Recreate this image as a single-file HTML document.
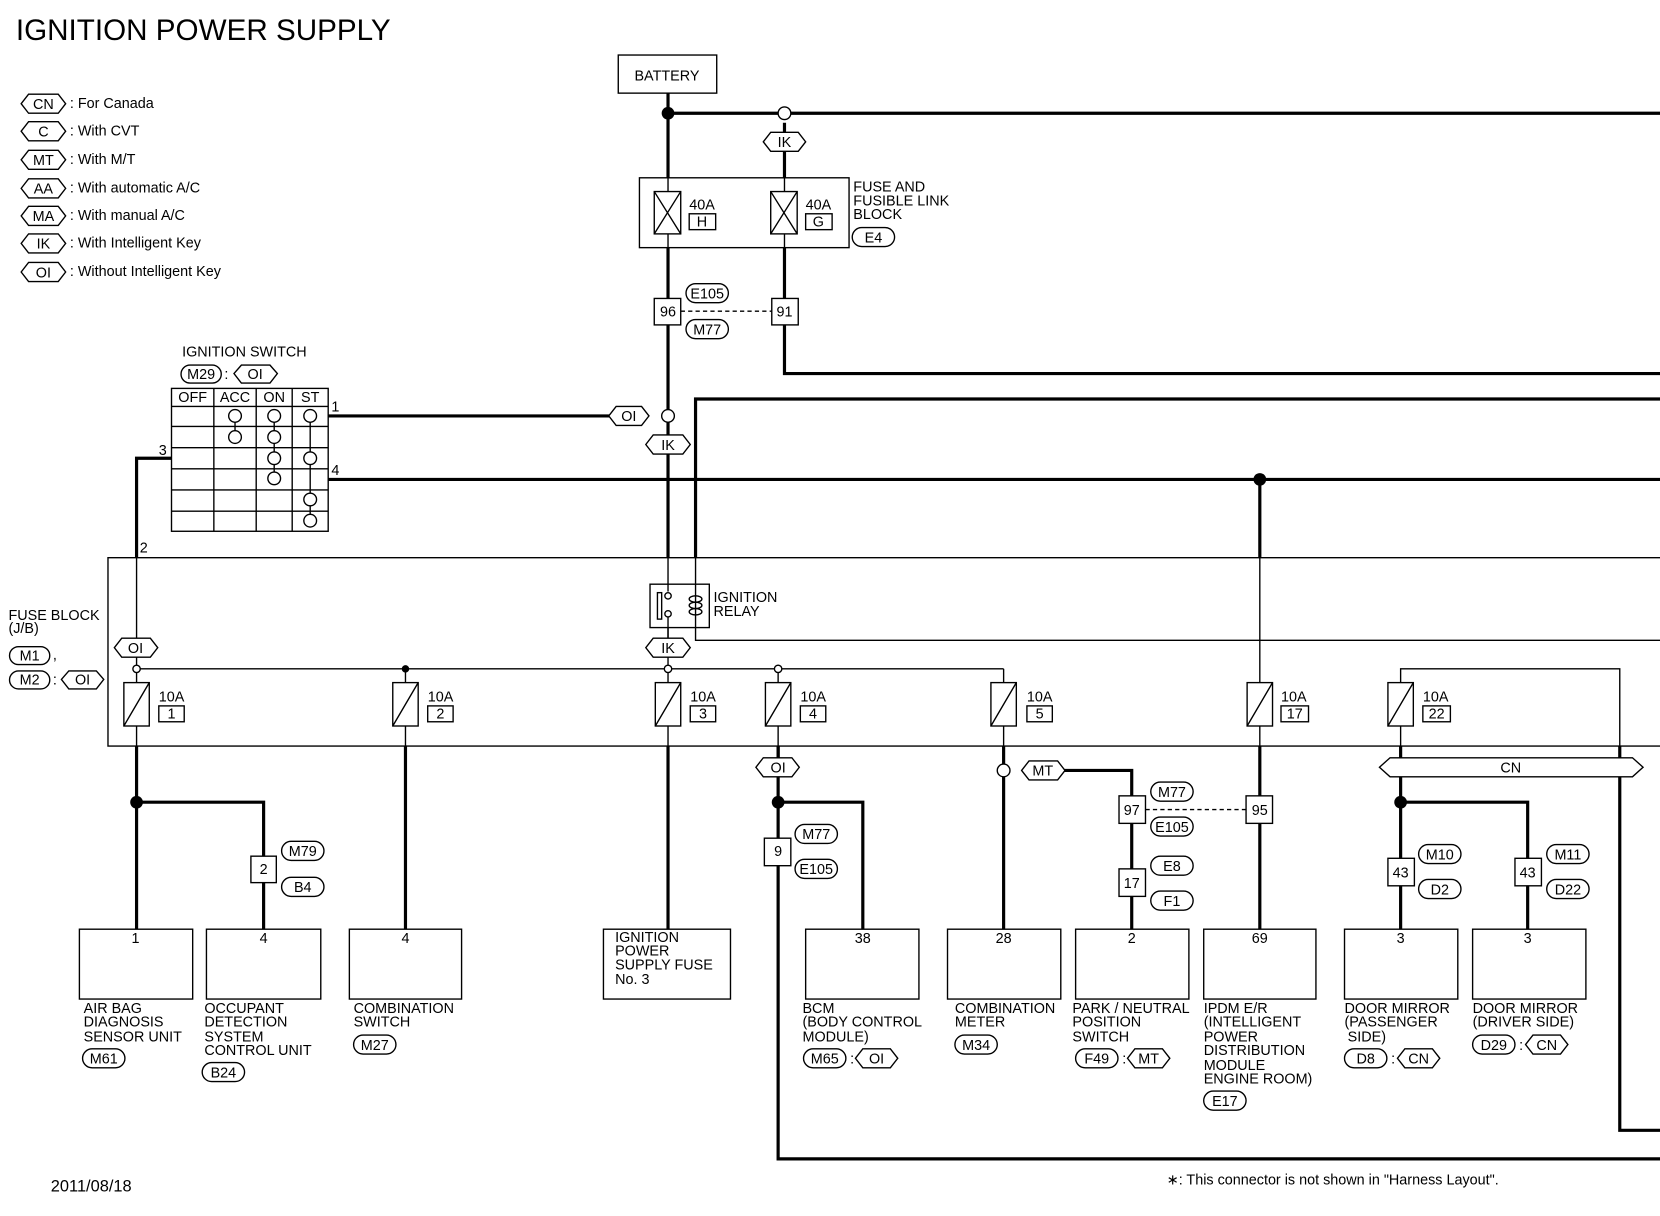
<!DOCTYPE html>
<html><head><meta charset="utf-8"><style>
html,body{margin:0;padding:0;background:#fff}
svg{display:block}
text{font-family:"Liberation Sans",Arial,sans-serif;fill:#000}
.s{font-size:13.6px}
.t{font-size:13.6px;text-anchor:middle}
</style></head><body>
<svg width="1660" height="1216" viewBox="0 0 1568 1149" preserveAspectRatio="none" xmlns="http://www.w3.org/2000/svg">
<rect width="1568" height="1149" fill="#fff"/>
<text x="15" y="38" style="font-size:28px">IGNITION POWER SUPPLY</text>

<!-- legend -->
<g fill="#fff" stroke="#000" stroke-width="1.3">
<polygon points="20,98 27,89 55,89 62,98 55,107 27,107"/>
<polygon points="20,124 27,115 55,115 62,124 55,133 27,133"/>
<polygon points="20,151 27,142 55,142 62,151 55,160 27,160"/>
<polygon points="20,178 27,169 55,169 62,178 55,187 27,187"/>
<polygon points="20,204 27,195 55,195 62,204 55,213 27,213"/>
<polygon points="20,230 27,221 55,221 62,230 55,239 27,239"/>
<polygon points="20,257 27,248 55,248 62,257 55,266 27,266"/>
</g>
<g class="t"><text x="41" y="103" class="t">CN</text><text x="41" y="129" class="t">C</text><text x="41" y="156" class="t">MT</text><text x="41" y="183" class="t">AA</text><text x="41" y="209" class="t">MA</text><text x="41" y="235" class="t">IK</text><text x="41" y="262" class="t">OI</text></g>
<g class="s"><text x="66" y="102" class="s">: For Canada</text><text x="66" y="128" class="s">: With CVT</text><text x="66" y="155" class="s">: With M/T</text><text x="66" y="182" class="s">: With automatic A/C</text><text x="66" y="208" class="s">: With manual A/C</text><text x="66" y="234" class="s">: With Intelligent Key</text><text x="66" y="261" class="s">: Without Intelligent Key</text></g>

<!-- thick wires -->
<g fill="none" stroke="#000" stroke-width="3">
<line x1="631" y1="88" x2="631" y2="168"/>
<line x1="631" y1="107" x2="1568" y2="107"/>
<line x1="741" y1="116" x2="741" y2="168"/>
<line x1="631" y1="234" x2="631" y2="527"/>
<polyline points="741,234 741,353 1568,353"/>
<polyline points="657,527 657,377 1568,377"/>
<line x1="310" y1="393" x2="576" y2="393"/>
<line x1="310" y1="453" x2="1568" y2="453"/>
<polyline points="162,433 129,433 129,527"/>
<line x1="1190" y1="453" x2="1190" y2="527"/>
<line x1="129" y1="705" x2="129" y2="878"/>
<polyline points="129,758 249,758 249,878"/>
<line x1="383" y1="705" x2="383" y2="878"/>
<line x1="631" y1="705" x2="631" y2="878"/>
<polyline points="735,705 735,1095 1568,1095"/>
<polyline points="735,758 815,758 815,878"/>
<line x1="948" y1="705" x2="948" y2="878"/>
<polyline points="1003,728 1069,728 1069,878"/>
<line x1="1190" y1="705" x2="1190" y2="878"/>
<line x1="1323" y1="705" x2="1323" y2="878"/>
<polyline points="1323,758 1443,758 1443,878"/>
<polyline points="1530,705 1530,1068 1568,1068"/>
</g>
<!-- thin wires -->
<g fill="none" stroke="#000" stroke-width="1.3">
<line x1="129" y1="527" x2="129" y2="645"/>
<line x1="129" y1="632" x2="948" y2="632"/>
<line x1="948" y1="632" x2="948" y2="645"/>
<line x1="383" y1="632" x2="383" y2="645"/>
<line x1="631" y1="527" x2="631" y2="645"/>
<line x1="735" y1="632" x2="735" y2="645"/>
<polyline points="657,527 657,605 1568,605"/>
<line x1="1190" y1="527" x2="1190" y2="645"/>
<polyline points="1323,645 1323,632 1530,632 1530,705"/>
<polyline points="1568,527 102,527 102,705 1568,705"/>
<line x1="643" y1="294" x2="729" y2="294" stroke-dasharray="4,3"/>
<line x1="1082" y1="765" x2="1177" y2="765" stroke-dasharray="4,3"/>
<g fill="#fff">
<rect x="117" y="645" width="24" height="41"/><rect x="371" y="645" width="24" height="41"/><rect x="619" y="645" width="24" height="41"/><rect x="723" y="645" width="24" height="41"/><rect x="936" y="645" width="24" height="41"/><rect x="1178" y="645" width="24" height="41"/><rect x="1311" y="645" width="24" height="41"/>
</g>
<path d="M117,686L141,645M371,686L395,645M619,686L643,645M723,686L747,645M936,686L960,645M1178,686L1202,645M1311,686L1335,645"/>
<line x1="129" y1="686" x2="129" y2="705"/><line x1="383" y1="686" x2="383" y2="705"/><line x1="631" y1="686" x2="631" y2="705"/><line x1="735" y1="686" x2="735" y2="705"/><line x1="948" y1="686" x2="948" y2="705"/><line x1="1190" y1="686" x2="1190" y2="705"/><line x1="1323" y1="686" x2="1323" y2="705"/>
<rect x="150" y="667" width="24" height="15"/><rect x="404" y="667" width="24" height="15"/><rect x="652" y="667" width="24" height="15"/><rect x="756" y="667" width="24" height="15"/><rect x="970" y="667" width="24" height="15"/><rect x="1210" y="667" width="26" height="15"/><rect x="1344" y="667" width="26" height="15"/>
</g>
<g class="s"><text x="150" y="663" class="s">10A</text><text x="404" y="663" class="s">10A</text><text x="652" y="663" class="s">10A</text><text x="756" y="663" class="s">10A</text><text x="970" y="663" class="s">10A</text><text x="1210" y="663" class="s">10A</text><text x="1344" y="663" class="s">10A</text></g>
<g><text x="162" y="679" class="t">1</text><text x="416" y="679" class="t">2</text><text x="664" y="679" class="t">3</text><text x="768" y="679" class="t">4</text><text x="982" y="679" class="t">5</text><text x="1223" y="679" class="t">17</text><text x="1357" y="679" class="t">22</text></g>

<!-- battery & fuse link block -->
<rect x="584" y="52" width="93" height="36" fill="#fff" stroke="#000" stroke-width="1.3"/>
<text x="630" y="76" class="t">BATTERY</text>
<circle cx="631" cy="107" r="6" fill="#000"/>
<circle cx="741" cy="107" r="6" fill="#fff" stroke="#000" stroke-width="1.3"/>
<rect x="604" y="168" width="198" height="66" fill="#fff" stroke="#000" stroke-width="1.3"/>
<g fill="none" stroke="#000" stroke-width="1.3">
<rect x="618" y="181" width="25" height="40"/><path d="M618,181L643,221M643,181L618,221"/>
<line x1="631" y1="168" x2="631" y2="181"/><line x1="631" y1="221" x2="631" y2="234"/>
<rect x="728" y="181" width="25" height="40"/><path d="M728,181L753,221M753,181L728,221"/>
<line x1="741" y1="168" x2="741" y2="181"/><line x1="741" y1="221" x2="741" y2="234"/>
<rect x="651" y="202" width="25" height="15"/><rect x="761" y="202" width="25" height="15"/>
</g>
<text x="651" y="198" class="s">40A</text><text x="761" y="198" class="s">40A</text>
<text x="663" y="214" class="t">H</text><text x="773" y="214" class="t">G</text>
<text x="806" y="181" class="s">FUSE AND</text><text x="806" y="194" class="s">FUSIBLE LINK</text><text x="806" y="207" class="s">BLOCK</text>
<rect x="805" y="215" width="40" height="18" rx="9" fill="#fff" stroke="#000" stroke-width="1.3"/><text x="825" y="229" class="t">E4</text>
<polygon points="721,134 728,125 754,125 761,134 754,143 728,143" fill="#fff" stroke="#000" stroke-width="1.3"/><text x="741" y="139" class="t">IK</text>

<g fill="#fff" stroke="#000" stroke-width="1.3">
<rect x="618" y="282" width="25" height="25"/><rect x="729" y="282" width="25" height="25"/>
<rect x="648" y="268" width="40" height="18" rx="9"/><rect x="648" y="302" width="40" height="18" rx="9"/>
</g>
<text x="631" y="299" class="t">96</text><text x="741" y="299" class="t">91</text>
<text x="668" y="282" class="t">E105</text><text x="668" y="316" class="t">M77</text>

<circle cx="631" cy="393" r="6" fill="#fff" stroke="#000" stroke-width="1.3"/>
<polygon points="575,393 582,384 606,384 613,393 606,402 582,402" fill="#fff" stroke="#000" stroke-width="1.3"/><text x="594" y="398" class="t">OI</text>
<polygon points="610,420 617,411 645,411 652,420 645,429 617,429" fill="#fff" stroke="#000" stroke-width="1.3"/><text x="631" y="425" class="t">IK</text>

<!-- ignition switch -->
<text x="172" y="337" class="s">IGNITION SWITCH</text>
<rect x="171" y="345" width="38" height="17" rx="8.5" fill="#fff" stroke="#000" stroke-width="1.3"/><text x="190" y="358" class="t">M29</text>
<text x="212" y="358" class="s">:</text>
<polygon points="221,353 228,345 255,345 262,353 255,362 228,362" fill="#fff" stroke="#000" stroke-width="1.3"/><text x="241" y="358" class="t">OI</text>
<g fill="none" stroke="#000" stroke-width="1.3">
<rect x="162" y="367" width="148" height="135"/>
<line x1="202" y1="367" x2="202" y2="502"/><line x1="242" y1="367" x2="242" y2="502"/><line x1="276" y1="367" x2="276" y2="502"/>
<line x1="162" y1="384" x2="310" y2="384"/><line x1="162" y1="403" x2="310" y2="403"/><line x1="162" y1="423" x2="310" y2="423"/><line x1="162" y1="443" x2="310" y2="443"/><line x1="162" y1="463" x2="310" y2="463"/><line x1="162" y1="483" x2="310" y2="483"/>
<line x1="222" y1="393" x2="222" y2="413"/><line x1="259" y1="393" x2="259" y2="452"/><line x1="293" y1="393" x2="293" y2="492"/>
</g>
<g fill="#fff" stroke="#000" stroke-width="1.3">
<circle cx="222" cy="393" r="6"/><circle cx="222" cy="413" r="6"/>
<circle cx="259" cy="393" r="6"/><circle cx="259" cy="413" r="6"/><circle cx="259" cy="433" r="6"/><circle cx="259" cy="452" r="6"/>
<circle cx="293" cy="393" r="6"/><circle cx="293" cy="433" r="6"/><circle cx="293" cy="472" r="6"/><circle cx="293" cy="492" r="6"/>
</g>
<text x="182" y="380" class="t">OFF</text><text x="222" y="380" class="t">ACC</text><text x="259" y="380" class="t">ON</text><text x="293" y="380" class="t">ST</text>
<text x="313" y="389" class="s">1</text><text x="313" y="449" class="s">4</text><text x="150" y="430" class="s">3</text><text x="132" y="522" class="s">2</text>
<circle cx="1190" cy="453" r="6" fill="#000"/>

<text x="8" y="586" class="s">FUSE BLOCK</text><text x="8" y="598" class="s">(J/B)</text>
<rect x="9" y="611" width="38" height="17" rx="8.5" fill="#fff" stroke="#000" stroke-width="1.3"/><text x="28" y="624" class="t">M1</text><text x="50" y="623" class="s">,</text>
<rect x="9" y="634" width="38" height="17" rx="8.5" fill="#fff" stroke="#000" stroke-width="1.3"/><text x="28" y="647" class="t">M2</text><text x="50" y="647" class="s">:</text>
<polygon points="58,642 65,634 91,634 98,642 91,651 65,651" fill="#fff" stroke="#000" stroke-width="1.3"/><text x="78" y="647" class="t">OI</text>
<polygon points="108,612 115,603 142,603 149,612 142,621 115,621" fill="#fff" stroke="#000" stroke-width="1.3"/><text x="128" y="617" class="t">OI</text>

<rect x="614" y="552" width="56" height="41" fill="#fff" stroke="#000" stroke-width="1.3"/>
<g fill="none" stroke="#000" stroke-width="1.3">
<rect x="621" y="560" width="4" height="25"/>
<line x1="631" y1="552" x2="631" y2="559"/><line x1="631" y1="583" x2="631" y2="593"/>
<circle cx="631" cy="563" r="3"/><circle cx="631" cy="580" r="3"/>
<line x1="657" y1="552" x2="657" y2="593"/>
<ellipse cx="657" cy="566" rx="6" ry="3"/><ellipse cx="657" cy="572" rx="6" ry="3"/><ellipse cx="657" cy="578" rx="6" ry="3"/>
</g>
<line x1="631" y1="593" x2="631" y2="603" stroke="#000" stroke-width="1.3"/>
<text x="674" y="569" class="s">IGNITION</text><text x="674" y="582" class="s">RELAY</text>
<polygon points="610,612 617,603 645,603 652,612 645,621 617,621" fill="#fff" stroke="#000" stroke-width="1.3"/><text x="631" y="617" class="t">IK</text>
<g fill="#fff" stroke="#000" stroke-width="1.3"><circle cx="129" cy="632" r="3.5"/><circle cx="631" cy="632" r="3.5"/><circle cx="735" cy="632" r="3.5"/></g>
<circle cx="383" cy="632" r="3.5" fill="#000"/>

<circle cx="129" cy="758" r="6" fill="#000"/>
<circle cx="735" cy="758" r="6" fill="#000"/>
<circle cx="1323" cy="758" r="6" fill="#000"/>
<circle cx="948" cy="728" r="6" fill="#fff" stroke="#000" stroke-width="1.3"/>
<g fill="#fff" stroke="#000" stroke-width="1.3">
<polygon points="714,725 721,716 748,716 755,725 748,734 721,734"/>
<polygon points="965,728 972,719 999,719 1006,728 999,737 972,737"/>
<polygon points="1303,725 1313,716 1542,716 1552,725 1542,734 1313,734"/>
<rect x="237" y="809" width="24" height="25"/>
<rect x="722" y="792" width="25" height="26"/>
<rect x="1057" y="752" width="25" height="26"/><rect x="1177" y="752" width="25" height="26"/><rect x="1057" y="821" width="25" height="26"/>
<rect x="1311" y="811" width="25" height="26"/><rect x="1431" y="811" width="25" height="26"/>
<rect x="266" y="795" width="40" height="18" rx="9"/><rect x="266" y="829" width="40" height="18" rx="9"/>
<rect x="751" y="779" width="40" height="18" rx="9"/><rect x="751" y="812" width="40" height="18" rx="9"/>
<rect x="1087" y="739" width="40" height="18" rx="9"/><rect x="1087" y="772" width="40" height="18" rx="9"/>
<rect x="1087" y="809" width="40" height="18" rx="9"/><rect x="1087" y="842" width="40" height="18" rx="9"/>
<rect x="1340" y="798" width="40" height="18" rx="9"/><rect x="1340" y="831" width="40" height="18" rx="9"/>
<rect x="1461" y="798" width="40" height="18" rx="9"/><rect x="1461" y="831" width="40" height="18" rx="9"/>
</g>
<line x1="735" y1="716" x2="735" y2="705" stroke="#000" stroke-width="3"/>
<text x="735" y="730" class="t">OI</text><text x="985" y="733" class="t">MT</text><text x="1427" y="730" class="t">CN</text>
<text x="249" y="826" class="t">2</text><text x="735" y="809" class="t">9</text>
<text x="1069" y="770" class="t">97</text><text x="1190" y="770" class="t">95</text><text x="1069" y="839" class="t">17</text>
<text x="1323" y="829" class="t">43</text><text x="1443" y="829" class="t">43</text>
<text x="286" y="809" class="t">M79</text><text x="286" y="843" class="t">B4</text>
<text x="771" y="793" class="t">M77</text><text x="771" y="826" class="t">E105</text>
<text x="1107" y="753" class="t">M77</text><text x="1107" y="786" class="t">E105</text>
<text x="1107" y="823" class="t">E8</text><text x="1107" y="856" class="t">F1</text>
<text x="1360" y="812" class="t">M10</text><text x="1360" y="845" class="t">D2</text>
<text x="1481" y="812" class="t">M11</text><text x="1481" y="845" class="t">D22</text>

<g fill="#fff" stroke="#000" stroke-width="1.3">
<rect x="75" y="878" width="107" height="66"/><rect x="195" y="878" width="108" height="66"/><rect x="330" y="878" width="106" height="66"/><rect x="570" y="878" width="120" height="66"/>
<rect x="761" y="878" width="107" height="66"/><rect x="895" y="878" width="107" height="66"/><rect x="1016" y="878" width="107" height="66"/><rect x="1137" y="878" width="106" height="66"/><rect x="1270" y="878" width="107" height="66"/><rect x="1391" y="878" width="107" height="66"/>
</g>
<text x="128" y="891" class="t">1</text><text x="249" y="891" class="t">4</text><text x="383" y="891" class="t">4</text><text x="815" y="891" class="t">38</text><text x="948" y="891" class="t">28</text><text x="1069" y="891" class="t">2</text><text x="1190" y="891" class="t">69</text><text x="1323" y="891" class="t">3</text><text x="1443" y="891" class="t">3</text>
<text x="581" y="890" class="s">IGNITION</text><text x="581" y="903" class="s">POWER</text><text x="581" y="916" class="s">SUPPLY FUSE</text><text x="581" y="930" class="s">No. 3</text>

<g class="s">
<text x="79" y="957" class="s">AIR BAG</text><text x="79" y="970" class="s">DIAGNOSIS</text><text x="79" y="984" class="s">SENSOR UNIT</text>
<text x="193" y="957" class="s">OCCUPANT</text><text x="193" y="970" class="s">DETECTION</text><text x="193" y="984" class="s">SYSTEM</text><text x="193" y="997" class="s">CONTROL UNIT</text>
<text x="334" y="957" class="s">COMBINATION</text><text x="334" y="970" class="s">SWITCH</text>
<text x="758" y="957" class="s">BCM</text><text x="758" y="970" class="s">(BODY CONTROL</text><text x="758" y="984" class="s">MODULE)</text>
<text x="902" y="957" class="s">COMBINATION</text><text x="902" y="970" class="s">METER</text>
<text x="1013" y="957" class="s">PARK / NEUTRAL</text><text x="1013" y="970" class="s">POSITION</text><text x="1013" y="984" class="s">SWITCH</text>
<text x="1137" y="957" class="s">IPDM E/R</text><text x="1137" y="970" class="s">(INTELLIGENT</text><text x="1137" y="984" class="s">POWER</text><text x="1137" y="997" class="s">DISTRIBUTION</text><text x="1137" y="1011" class="s">MODULE</text><text x="1137" y="1024" class="s">ENGINE ROOM)</text>
<text x="1270" y="957" class="s">DOOR MIRROR</text><text x="1270" y="970" class="s">(PASSENGER</text><text x="1273" y="984" class="s">SIDE)</text>
<text x="1391" y="957" class="s">DOOR MIRROR</text><text x="1391" y="970" class="s">(DRIVER SIDE)</text>
</g>
<g fill="#fff" stroke="#000" stroke-width="1.3">
<rect x="78" y="991" width="40" height="18" rx="9"/>
<rect x="191" y="1004" width="40" height="18" rx="9"/>
<rect x="334" y="978" width="40" height="18" rx="9"/>
<rect x="759" y="991" width="40" height="18" rx="9"/>
<polygon points="808,1000 815,991 841,991 848,1000 841,1009 815,1009"/>
<rect x="902" y="978" width="40" height="18" rx="9"/>
<rect x="1016" y="991" width="40" height="18" rx="9"/>
<polygon points="1065,1000 1072,991 1098,991 1105,1000 1098,1009 1072,1009"/>
<rect x="1137" y="1031" width="40" height="18" rx="9"/>
<rect x="1270" y="991" width="40" height="18" rx="9"/>
<polygon points="1320,1000 1327,991 1353,991 1360,1000 1353,1009 1327,1009"/>
<rect x="1391" y="978" width="40" height="18" rx="9"/>
<polygon points="1441,987 1448,978 1474,978 1481,987 1474,996 1448,996"/>
</g>
<text x="98" y="1005" class="t">M61</text><text x="211" y="1018" class="t">B24</text><text x="354" y="992" class="t">M27</text>
<text x="779" y="1005" class="t">M65</text><text x="803" y="1005" class="s">:</text><text x="828" y="1005" class="t">OI</text>
<text x="922" y="992" class="t">M34</text>
<text x="1036" y="1005" class="t">F49</text><text x="1060" y="1005" class="s">:</text><text x="1085" y="1005" class="t">MT</text>
<text x="1157" y="1045" class="t">E17</text>
<text x="1290" y="1005" class="t">D8</text><text x="1314" y="1005" class="s">:</text><text x="1340" y="1005" class="t">CN</text>
<text x="1411" y="992" class="t">D29</text><text x="1435" y="992" class="s">:</text><text x="1461" y="992" class="t">CN</text>

<text x="48" y="1126" style="font-size:15.5px">2011/08/18</text>
<text x="1102" y="1119" class="s">∗: This connector is not shown in "Harness Layout".</text>
</svg>
</body></html>
